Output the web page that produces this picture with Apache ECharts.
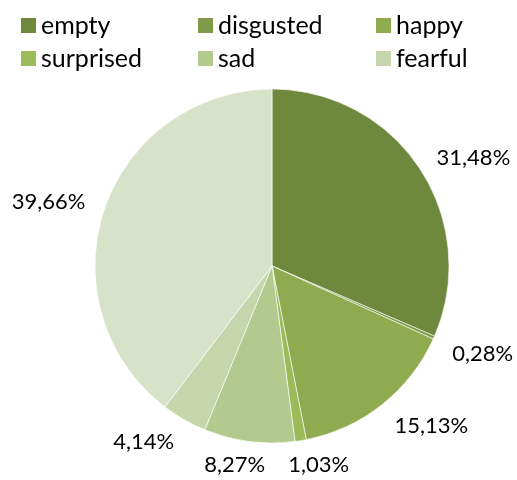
<!DOCTYPE html>
<html>
<head>
<meta charset="utf-8">
<script src="https://cdn.jsdelivr.net/npm/echarts@6/dist/echarts.min.js"></script>
<style>
html,body{margin:0;padding:0;background:#fff;}
#chart{width:517px;height:480px;}
</style>
</head>
<body>
<div id="chart"></div>
<script>
// Share of each emotion class, in percent
const categories = ['empty', 'disgusted', 'happy', 'surprised', 'sad', 'fearful', 'neutral'];
const shares = [31.48, 0.28, 15.13, 1.03, 8.27, 4.14, 39.66];
const colors = ['#6E883D', '#7F9A48', '#8EAB50', '#9BBB59', '#B2CA8D', '#C6D6AC', '#D8E2C8'];
// Legend columns (the last class is not listed)
const legendColumns = [['empty', 'surprised'], ['disgusted', 'sad'], ['happy', 'fearful']];
const legendLefts = [21, 198, 376];

const FONT = 'Lato, "Open Sans", sans-serif';
const LABEL_SIZE = 22;
const PIE_CENTER = [272, 266];
const PIE_RADIUS = 177;
const GAP_X = 20, GAP_Y = 12;
// digits sit high in the line box; nudge labels down to centre the glyphs
const GLYPH_SHIFT = 4;

const total = shares.reduce((a, b) => a + b, 0);
// Mid-angle direction of every slice (clockwise from 12 o'clock)
const midDirs = [];
let acc = 0;
shares.forEach(v => {
  const a = (acc + v / 2) / total * Math.PI * 2;
  midDirs.push([Math.sin(a), -Math.cos(a)]);
  acc += v;
});

const clamp = v => Math.max(-1, Math.min(1, v));

// Outside-end labels: the glyph box corner nearest the pie sits just off the slice's mid ray
function layoutLabel(params) {
  const d = midDirs[params.dataIndex];
  const w = params.labelRect.width;
  const h = LABEL_SIZE * 0.72;
  const cx = PIE_CENTER[0] + d[0] * (PIE_RADIUS + GAP_X) + clamp(d[0] * 3) * w / 2;
  const cy = PIE_CENTER[1] + d[1] * (PIE_RADIUS + GAP_Y) + clamp(d[1] * 3) * h / 2 + GLYPH_SHIFT;
  return {x: cx, y: cy, align: 'center', verticalAlign: 'middle'};
}

const chart = echarts.init(document.getElementById('chart'), null, {renderer: 'canvas'});

const legends = legendColumns.map((col, i) => ({
  data: col,
  orient: 'vertical',
  left: legendLefts[i],
  top: 13,
  padding: 0,
  itemWidth: 15,
  itemHeight: 15,
  itemGap: 8,
  icon: 'rect',
  selectedMode: false,
  itemStyle: {borderWidth: 0},
  textStyle: {fontFamily: FONT, fontSize: 25, color: '#000'}
}));

chart.setOption({
  animation: false,
  color: colors,
  legend: legends,
  series: [{
    type: 'pie',
    center: PIE_CENTER,
    radius: PIE_RADIUS,
    startAngle: 90,
    clockwise: true,
    avoidLabelOverlap: false,
    itemStyle: {borderColor: '#fff', borderWidth: 0.6},
    label: {
      show: true,
      position: 'outside',
      formatter: p => p.value.toFixed(2).replace('.', ',') + '%',
      fontFamily: FONT,
      fontSize: LABEL_SIZE,
      color: '#000'
    },
    labelLine: {show: false},
    labelLayout: layoutLabel,
    data: categories.map((c, i) => ({name: c, value: shares[i]}))
  }]
});
</script>
</body>
</html>
